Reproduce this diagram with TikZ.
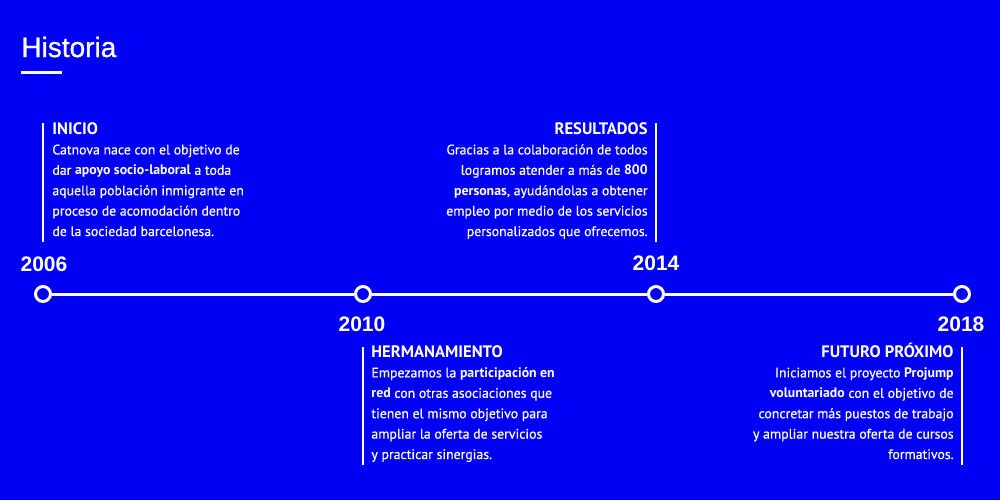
\documentclass[tikz,border=0pt]{standalone}
\usepackage{fontspec}
\setmainfont{PT Sans}[UprightFeatures={FakeBold=0.6}]
\newfontfamily\headfont{Liberation Sans}
\newfontfamily\titlefont{Liberation Sans}[FakeBold=0.8]
\usetikzlibrary{positioning}
\definecolor{histblue}{RGB}{0,0,245}

\tikzset{
  dot/.style={circle, draw=white, fill=histblue, line width=1.5pt, minimum size=7.5pt, inner sep=0pt},
  yearlbl/.style={text=white, inner sep=0pt, anchor=base, font=\headfont\bfseries\fontsize{10.5}{12}\selectfont},
  boxtxt/.style={text=white, inner sep=0pt, font=\fontsize{6.9}{10.2}\selectfont},
  bar/.style={white, line width=1pt}
}
\newcommand{\boxhead}[1]{{\fontsize{8.3}{10.2}\selectfont\bfseries #1}}

\begin{document}
\begin{tikzpicture}[x=0.5pt,y=-0.5pt]
    \fill[histblue] (0,0) rectangle (1000,500);

    % title
    \node[text=white, inner sep=0pt, anchor=base west, font=\titlefont\fontsize{14}{16}\selectfont] (title) at (21,57) {Historia};
    \coordinate (ul1) at (21,72);
    \coordinate (ul2) at (62,72);
    \draw[white, line width=1.5pt] (ul1) -- (ul2);

    % timeline
    \node[dot] (d2006) at (43,294) {};
    \node[dot] (d2010) at (363,294) {};
    \node[dot] (d2014) at (656,294) {};
    \node[dot] (d2018) at (962,294) {};
    \draw[white, line width=1.5pt] (d2006) -- (d2010) -- (d2014) -- (d2018);

    \node[yearlbl] (y2006) at (44,271) {2006};
    \node[yearlbl] (y2010) at (362,331) {2010};
    \node[yearlbl] (y2014) at (656,270) {2014};
    \node[yearlbl] (y2018) at (961,331) {2018};

    % text blocks (base = last line)
    \node[boxtxt, anchor=base west, align=left] (inicio) at (52,236)
      {\boxhead{INICIO}\\
       Catnova nace con el objetivo de\\
       dar \textbf{apoyo socio-laboral} a toda\\
       aquella población inmigrante en\\
       proceso de acomodación dentro\\
       de la sociedad barcelonesa.};
    \node[boxtxt, anchor=base east, align=right] (result) at (648,236)
      {\boxhead{RESULTADOS}\\
       Gracias a la colaboración de todos\\
       logramos atender a más de \textbf{800}\\
       \textbf{personas}, ayudándolas a obtener\\
       empleo por medio de los servicios\\
       personalizados que ofrecemos.};
    \node[boxtxt, anchor=base west, align=left] (herman) at (371,459)
      {\boxhead{HERMANAMIENTO}\\
       Empezamos la \textbf{participación en}\\
       \textbf{red} con otras asociaciones que\\
       tienen el mismo objetivo para\\
       ampliar la oferta de servicios\\
       y practicar sinergias.};
    \node[boxtxt, anchor=base east, align=right] (futuro) at (954,459)
      {\boxhead{FUTURO PRÓXIMO}\\
       Iniciamos el proyecto \textbf{Projump}\\
       \textbf{voluntariado} con el objetivo de\\
       concretar más puestos de trabajo\\
       y ampliar nuestra oferta de cursos\\
       formativos.};

    % bars
    \foreach \nm/\x/\ya/\yb in {inicio/43/123/242, result/656/123/242, herman/363/347/465, futuro/962/347/465}{
      \coordinate (\nm-top) at (\x,\ya);
      \coordinate (\nm-bot) at (\x,\yb);
      \draw[bar] (\nm-top) -- (\nm-bot);
    }
\end{tikzpicture}
\end{document}
